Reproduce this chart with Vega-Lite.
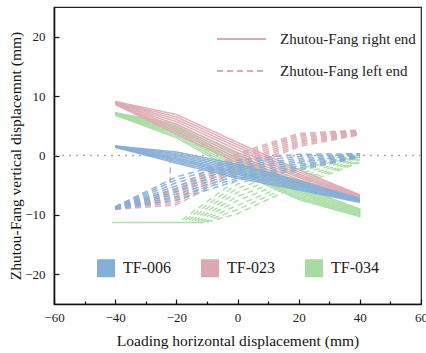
{
  "$schema": "https://vega.github.io/schema/vega-lite/v6.json",
  "width": 367,
  "height": 297,
  "autosize": "none",
  "padding": {"left": 54, "top": 7, "right": 5, "bottom": 49},
  "background": "white",
  "config": {
    "font": "Liberation Serif",
    "view": {"stroke": "#222", "strokeWidth": 1.2},
    "axis": {"grid": false, "domainColor": "#111", "domainWidth": 1.6, "tickColor": "#111", "tickWidth": 1.2, "labelColor": "#222", "labelFont": "Liberation Serif", "labelFontSize": 13, "titleFont": "Liberation Serif", "titleFontSize": 15.5, "titleFontWeight": "normal", "titleColor": "#111"},
    "legend": {"labelFont": "Liberation Serif", "labelColor": "#222"}
  },
  "layer": [
    {
      "data": {"values": [{}]},
      "mark": {"type": "rule", "color": "#aaaaaa", "strokeDash": [2, 5], "strokeWidth": 1.3},
      "encoding": {"y": {"datum": 0}}
    },
    {
      "data": {"values": [
        {"s":"TF-034","e":"R","c":1,"x":-40,"y":7.2},{"s":"TF-034","e":"R","c":1,"x":-20,"y":5.3},{"s":"TF-034","e":"R","c":1,"x":0,"y":0.3},{"s":"TF-034","e":"R","c":1,"x":20,"y":-5.2},{"s":"TF-034","e":"R","c":1,"x":40,"y":-9.0},
        {"s":"TF-034","e":"R","c":2,"x":-40,"y":7.1},{"s":"TF-034","e":"R","c":2,"x":-20,"y":4.7},{"s":"TF-034","e":"R","c":2,"x":0,"y":-0.5},{"s":"TF-034","e":"R","c":2,"x":20,"y":-5.8},{"s":"TF-034","e":"R","c":2,"x":40,"y":-9.3},
        {"s":"TF-034","e":"R","c":3,"x":-40,"y":7.0},{"s":"TF-034","e":"R","c":3,"x":-20,"y":4.2},{"s":"TF-034","e":"R","c":3,"x":0,"y":-1.3},{"s":"TF-034","e":"R","c":3,"x":20,"y":-6.3},{"s":"TF-034","e":"R","c":3,"x":40,"y":-9.7},
        {"s":"TF-034","e":"R","c":4,"x":-40,"y":6.9},{"s":"TF-034","e":"R","c":4,"x":-20,"y":3.6},{"s":"TF-034","e":"R","c":4,"x":0,"y":-2.0},{"s":"TF-034","e":"R","c":4,"x":20,"y":-6.9},{"s":"TF-034","e":"R","c":4,"x":40,"y":-10.0},
        {"s":"TF-034","e":"R","c":5,"x":-40,"y":6.8},{"s":"TF-034","e":"R","c":5,"x":-20,"y":3.0},{"s":"TF-034","e":"R","c":5,"x":0,"y":-2.8},{"s":"TF-034","e":"R","c":5,"x":20,"y":-7.4},{"s":"TF-034","e":"R","c":5,"x":40,"y":-10.3},
        {"s":"TF-034","e":"R","c":8,"x":-40,"y":7.15},{"s":"TF-034","e":"R","c":8,"x":-20,"y":5.0},{"s":"TF-034","e":"R","c":8,"x":0,"y":-0.1},{"s":"TF-034","e":"R","c":8,"x":20,"y":-5.5},{"s":"TF-034","e":"R","c":8,"x":40,"y":-9.15},
        {"s":"TF-034","e":"R","c":9,"x":-40,"y":7.05},{"s":"TF-034","e":"R","c":9,"x":-20,"y":4.45},{"s":"TF-034","e":"R","c":9,"x":0,"y":-0.9},{"s":"TF-034","e":"R","c":9,"x":20,"y":-6.05},{"s":"TF-034","e":"R","c":9,"x":40,"y":-9.5},
        {"s":"TF-034","e":"R","c":10,"x":-40,"y":6.95},{"s":"TF-034","e":"R","c":10,"x":-20,"y":3.9},{"s":"TF-034","e":"R","c":10,"x":0,"y":-1.65},{"s":"TF-034","e":"R","c":10,"x":20,"y":-6.6},{"s":"TF-034","e":"R","c":10,"x":40,"y":-9.85},
        {"s":"TF-034","e":"R","c":11,"x":-40,"y":6.85},{"s":"TF-034","e":"R","c":11,"x":-20,"y":3.3},{"s":"TF-034","e":"R","c":11,"x":0,"y":-2.4},{"s":"TF-034","e":"R","c":11,"x":20,"y":-7.15},{"s":"TF-034","e":"R","c":11,"x":40,"y":-10.15},
        {"s":"TF-034","e":"R","c":6,"x":-41,"y":-11.3},{"s":"TF-034","e":"R","c":6,"x":-11,"y":-11.3},
        {"s":"TF-034","e":"R","c":7,"x":40,"y":-10.4},{"s":"TF-034","e":"R","c":7,"x":40,"y":-8.9},
        {"s":"TF-034","e":"L","c":1,"x":-18,"y":-10.8},{"s":"TF-034","e":"L","c":1,"x":0,"y":-4.0},{"s":"TF-034","e":"L","c":1,"x":20,"y":-1.2},{"s":"TF-034","e":"L","c":1,"x":40,"y":0.2},
        {"s":"TF-034","e":"L","c":2,"x":-16,"y":-10.9},{"s":"TF-034","e":"L","c":2,"x":0,"y":-5.5},{"s":"TF-034","e":"L","c":2,"x":20,"y":-2.2},{"s":"TF-034","e":"L","c":2,"x":40,"y":-0.2},
        {"s":"TF-034","e":"L","c":3,"x":-14,"y":-11.0},{"s":"TF-034","e":"L","c":3,"x":0,"y":-6.9},{"s":"TF-034","e":"L","c":3,"x":20,"y":-3.1},{"s":"TF-034","e":"L","c":3,"x":40,"y":-0.5},
        {"s":"TF-034","e":"L","c":4,"x":-12,"y":-11.1},{"s":"TF-034","e":"L","c":4,"x":0,"y":-8.4},{"s":"TF-034","e":"L","c":4,"x":20,"y":-4.1},{"s":"TF-034","e":"L","c":4,"x":40,"y":-0.9},
        {"s":"TF-034","e":"L","c":5,"x":-10,"y":-11.2},{"s":"TF-034","e":"L","c":5,"x":0,"y":-9.8},{"s":"TF-034","e":"L","c":5,"x":20,"y":-5.0},{"s":"TF-034","e":"L","c":5,"x":40,"y":-1.2},
        {"s":"TF-034","e":"L","c":6,"x":-17,"y":-10.85},{"s":"TF-034","e":"L","c":6,"x":0,"y":-4.8},{"s":"TF-034","e":"L","c":6,"x":20,"y":-1.7},{"s":"TF-034","e":"L","c":6,"x":40,"y":0.0},
        {"s":"TF-034","e":"L","c":7,"x":-15,"y":-10.95},{"s":"TF-034","e":"L","c":7,"x":0,"y":-6.2},{"s":"TF-034","e":"L","c":7,"x":20,"y":-2.6},{"s":"TF-034","e":"L","c":7,"x":40,"y":-0.35},
        {"s":"TF-034","e":"L","c":8,"x":-13,"y":-11.05},{"s":"TF-034","e":"L","c":8,"x":0,"y":-7.6},{"s":"TF-034","e":"L","c":8,"x":20,"y":-3.6},{"s":"TF-034","e":"L","c":8,"x":40,"y":-0.7},
        {"s":"TF-034","e":"L","c":9,"x":-11,"y":-11.15},{"s":"TF-034","e":"L","c":9,"x":0,"y":-9.1},{"s":"TF-034","e":"L","c":9,"x":20,"y":-4.5},{"s":"TF-034","e":"L","c":9,"x":40,"y":-1.05},
        {"s":"TF-023","e":"R","c":1,"x":-40,"y":9.1},{"s":"TF-023","e":"R","c":1,"x":-20,"y":6.9},{"s":"TF-023","e":"R","c":1,"x":0,"y":2.2},{"s":"TF-023","e":"R","c":1,"x":20,"y":-2.4},{"s":"TF-023","e":"R","c":1,"x":40,"y":-6.6},
        {"s":"TF-023","e":"R","c":2,"x":-40,"y":9.0},{"s":"TF-023","e":"R","c":2,"x":-20,"y":6.1},{"s":"TF-023","e":"R","c":2,"x":0,"y":1.4},{"s":"TF-023","e":"R","c":2,"x":20,"y":-3.1},{"s":"TF-023","e":"R","c":2,"x":40,"y":-6.8},
        {"s":"TF-023","e":"R","c":3,"x":-40,"y":8.85},{"s":"TF-023","e":"R","c":3,"x":-20,"y":5.25},{"s":"TF-023","e":"R","c":3,"x":0,"y":0.5},{"s":"TF-023","e":"R","c":3,"x":20,"y":-3.7},{"s":"TF-023","e":"R","c":3,"x":40,"y":-6.9},
        {"s":"TF-023","e":"R","c":4,"x":-40,"y":8.7},{"s":"TF-023","e":"R","c":4,"x":-20,"y":4.4},{"s":"TF-023","e":"R","c":4,"x":0,"y":-0.4},{"s":"TF-023","e":"R","c":4,"x":20,"y":-4.4},{"s":"TF-023","e":"R","c":4,"x":40,"y":-7.0},
        {"s":"TF-023","e":"R","c":5,"x":-40,"y":8.6},{"s":"TF-023","e":"R","c":5,"x":-20,"y":3.6},{"s":"TF-023","e":"R","c":5,"x":0,"y":-1.2},{"s":"TF-023","e":"R","c":5,"x":20,"y":-5.0},{"s":"TF-023","e":"R","c":5,"x":40,"y":-7.2},
        {"s":"TF-023","e":"R","c":6,"x":-40,"y":9.05},{"s":"TF-023","e":"R","c":6,"x":-20,"y":6.5},{"s":"TF-023","e":"R","c":6,"x":0,"y":1.8},{"s":"TF-023","e":"R","c":6,"x":20,"y":-2.75},{"s":"TF-023","e":"R","c":6,"x":40,"y":-6.7},
        {"s":"TF-023","e":"R","c":7,"x":-40,"y":8.9},{"s":"TF-023","e":"R","c":7,"x":-20,"y":5.7},{"s":"TF-023","e":"R","c":7,"x":0,"y":0.95},{"s":"TF-023","e":"R","c":7,"x":20,"y":-3.4},{"s":"TF-023","e":"R","c":7,"x":40,"y":-6.85},
        {"s":"TF-023","e":"R","c":8,"x":-40,"y":8.8},{"s":"TF-023","e":"R","c":8,"x":-20,"y":4.8},{"s":"TF-023","e":"R","c":8,"x":0,"y":0.05},{"s":"TF-023","e":"R","c":8,"x":20,"y":-4.05},{"s":"TF-023","e":"R","c":8,"x":40,"y":-6.95},
        {"s":"TF-023","e":"R","c":9,"x":-40,"y":8.65},{"s":"TF-023","e":"R","c":9,"x":-20,"y":4.0},{"s":"TF-023","e":"R","c":9,"x":0,"y":-0.8},{"s":"TF-023","e":"R","c":9,"x":20,"y":-4.7},{"s":"TF-023","e":"R","c":9,"x":40,"y":-7.1},
        {"s":"TF-023","e":"L","c":1,"x":-40,"y":-8.8},{"s":"TF-023","e":"L","c":1,"x":-20,"y":-5.5},{"s":"TF-023","e":"L","c":1,"x":0,"y":0.3},{"s":"TF-023","e":"L","c":1,"x":20,"y":3.7},{"s":"TF-023","e":"L","c":1,"x":40,"y":4.3},
        {"s":"TF-023","e":"L","c":2,"x":-40,"y":-8.9},{"s":"TF-023","e":"L","c":2,"x":-20,"y":-6.2},{"s":"TF-023","e":"L","c":2,"x":0,"y":-0.4},{"s":"TF-023","e":"L","c":2,"x":20,"y":3.2},{"s":"TF-023","e":"L","c":2,"x":40,"y":4.1},
        {"s":"TF-023","e":"L","c":3,"x":-40,"y":-9.0},{"s":"TF-023","e":"L","c":3,"x":-20,"y":-6.9},{"s":"TF-023","e":"L","c":3,"x":0,"y":-1.2},{"s":"TF-023","e":"L","c":3,"x":20,"y":2.6},{"s":"TF-023","e":"L","c":3,"x":40,"y":3.9},
        {"s":"TF-023","e":"L","c":4,"x":-40,"y":-9.0},{"s":"TF-023","e":"L","c":4,"x":-20,"y":-7.6},{"s":"TF-023","e":"L","c":4,"x":0,"y":-2.0},{"s":"TF-023","e":"L","c":4,"x":20,"y":2.1},{"s":"TF-023","e":"L","c":4,"x":40,"y":3.7},
        {"s":"TF-023","e":"L","c":5,"x":-40,"y":-9.1},{"s":"TF-023","e":"L","c":5,"x":-20,"y":-8.3},{"s":"TF-023","e":"L","c":5,"x":0,"y":-2.8},{"s":"TF-023","e":"L","c":5,"x":20,"y":1.5},{"s":"TF-023","e":"L","c":5,"x":40,"y":3.5},
        {"s":"TF-023","e":"L","c":7,"x":-40,"y":-8.85},{"s":"TF-023","e":"L","c":7,"x":-20,"y":-5.85},{"s":"TF-023","e":"L","c":7,"x":0,"y":-0.05},{"s":"TF-023","e":"L","c":7,"x":20,"y":3.45},{"s":"TF-023","e":"L","c":7,"x":40,"y":4.2},
        {"s":"TF-023","e":"L","c":8,"x":-40,"y":-8.95},{"s":"TF-023","e":"L","c":8,"x":-20,"y":-6.55},{"s":"TF-023","e":"L","c":8,"x":0,"y":-0.8},{"s":"TF-023","e":"L","c":8,"x":20,"y":2.9},{"s":"TF-023","e":"L","c":8,"x":40,"y":4.0},
        {"s":"TF-023","e":"L","c":9,"x":-40,"y":-9.0},{"s":"TF-023","e":"L","c":9,"x":-20,"y":-7.25},{"s":"TF-023","e":"L","c":9,"x":0,"y":-1.6},{"s":"TF-023","e":"L","c":9,"x":20,"y":2.35},{"s":"TF-023","e":"L","c":9,"x":40,"y":3.8},
        {"s":"TF-023","e":"L","c":10,"x":-40,"y":-9.05},{"s":"TF-023","e":"L","c":10,"x":-20,"y":-7.95},{"s":"TF-023","e":"L","c":10,"x":0,"y":-2.4},{"s":"TF-023","e":"L","c":10,"x":20,"y":1.8},{"s":"TF-023","e":"L","c":10,"x":40,"y":3.6},
        {"s":"TF-023","e":"L","c":6,"x":-22,"y":-0.3},{"s":"TF-023","e":"L","c":6,"x":-22,"y":-4.5},
        {"s":"TF-006","e":"R","c":1,"x":-40,"y":1.6},{"s":"TF-006","e":"R","c":1,"x":-20,"y":0.6},{"s":"TF-006","e":"R","c":1,"x":0,"y":-1.5},{"s":"TF-006","e":"R","c":1,"x":20,"y":-4.2},{"s":"TF-006","e":"R","c":1,"x":40,"y":-7.2},
        {"s":"TF-006","e":"R","c":2,"x":-40,"y":1.55},{"s":"TF-006","e":"R","c":2,"x":-20,"y":0.1},{"s":"TF-006","e":"R","c":2,"x":0,"y":-2.1},{"s":"TF-006","e":"R","c":2,"x":20,"y":-4.6},{"s":"TF-006","e":"R","c":2,"x":40,"y":-7.4},
        {"s":"TF-006","e":"R","c":3,"x":-40,"y":1.5},{"s":"TF-006","e":"R","c":3,"x":-20,"y":-0.4},{"s":"TF-006","e":"R","c":3,"x":0,"y":-2.7},{"s":"TF-006","e":"R","c":3,"x":20,"y":-5.0},{"s":"TF-006","e":"R","c":3,"x":40,"y":-7.6},
        {"s":"TF-006","e":"R","c":4,"x":-40,"y":1.45},{"s":"TF-006","e":"R","c":4,"x":-20,"y":-0.8},{"s":"TF-006","e":"R","c":4,"x":0,"y":-3.2},{"s":"TF-006","e":"R","c":4,"x":20,"y":-5.4},{"s":"TF-006","e":"R","c":4,"x":40,"y":-7.7},
        {"s":"TF-006","e":"R","c":5,"x":-40,"y":1.4},{"s":"TF-006","e":"R","c":5,"x":-20,"y":-1.3},{"s":"TF-006","e":"R","c":5,"x":0,"y":-3.8},{"s":"TF-006","e":"R","c":5,"x":20,"y":-5.8},{"s":"TF-006","e":"R","c":5,"x":40,"y":-7.9},
        {"s":"TF-006","e":"R","c":6,"x":-40,"y":1.58},{"s":"TF-006","e":"R","c":6,"x":-20,"y":0.35},{"s":"TF-006","e":"R","c":6,"x":0,"y":-1.8},{"s":"TF-006","e":"R","c":6,"x":20,"y":-4.4},{"s":"TF-006","e":"R","c":6,"x":40,"y":-7.3},
        {"s":"TF-006","e":"R","c":7,"x":-40,"y":1.52},{"s":"TF-006","e":"R","c":7,"x":-20,"y":-0.15},{"s":"TF-006","e":"R","c":7,"x":0,"y":-2.4},{"s":"TF-006","e":"R","c":7,"x":20,"y":-4.8},{"s":"TF-006","e":"R","c":7,"x":40,"y":-7.5},
        {"s":"TF-006","e":"R","c":8,"x":-40,"y":1.48},{"s":"TF-006","e":"R","c":8,"x":-20,"y":-0.6},{"s":"TF-006","e":"R","c":8,"x":0,"y":-2.95},{"s":"TF-006","e":"R","c":8,"x":20,"y":-5.2},{"s":"TF-006","e":"R","c":8,"x":40,"y":-7.65},
        {"s":"TF-006","e":"R","c":9,"x":-40,"y":1.42},{"s":"TF-006","e":"R","c":9,"x":-20,"y":-1.05},{"s":"TF-006","e":"R","c":9,"x":0,"y":-3.5},{"s":"TF-006","e":"R","c":9,"x":20,"y":-5.6},{"s":"TF-006","e":"R","c":9,"x":40,"y":-7.8},
        {"s":"TF-006","e":"L","c":1,"x":-40,"y":-8.6},{"s":"TF-006","e":"L","c":1,"x":-20,"y":-3.6},{"s":"TF-006","e":"L","c":1,"x":0,"y":-0.8},{"s":"TF-006","e":"L","c":1,"x":20,"y":0.2},{"s":"TF-006","e":"L","c":1,"x":40,"y":0.3},
        {"s":"TF-006","e":"L","c":2,"x":-40,"y":-8.7},{"s":"TF-006","e":"L","c":2,"x":-20,"y":-4.6},{"s":"TF-006","e":"L","c":2,"x":0,"y":-1.7},{"s":"TF-006","e":"L","c":2,"x":20,"y":-0.5},{"s":"TF-006","e":"L","c":2,"x":40,"y":0.2},
        {"s":"TF-006","e":"L","c":3,"x":-40,"y":-8.8},{"s":"TF-006","e":"L","c":3,"x":-20,"y":-5.6},{"s":"TF-006","e":"L","c":3,"x":0,"y":-2.5},{"s":"TF-006","e":"L","c":3,"x":20,"y":-1.1},{"s":"TF-006","e":"L","c":3,"x":40,"y":0.0},
        {"s":"TF-006","e":"L","c":4,"x":-40,"y":-8.9},{"s":"TF-006","e":"L","c":4,"x":-20,"y":-6.5},{"s":"TF-006","e":"L","c":4,"x":0,"y":-3.4},{"s":"TF-006","e":"L","c":4,"x":20,"y":-1.8},{"s":"TF-006","e":"L","c":4,"x":40,"y":-0.2},
        {"s":"TF-006","e":"L","c":5,"x":-40,"y":-9.0},{"s":"TF-006","e":"L","c":5,"x":-20,"y":-7.5},{"s":"TF-006","e":"L","c":5,"x":0,"y":-4.2},{"s":"TF-006","e":"L","c":5,"x":20,"y":-2.4},{"s":"TF-006","e":"L","c":5,"x":40,"y":-0.3},
        {"s":"TF-006","e":"L","c":6,"x":-40,"y":-8.65},{"s":"TF-006","e":"L","c":6,"x":-20,"y":-4.1},{"s":"TF-006","e":"L","c":6,"x":0,"y":-1.25},{"s":"TF-006","e":"L","c":6,"x":20,"y":-0.15},{"s":"TF-006","e":"L","c":6,"x":40,"y":0.25},
        {"s":"TF-006","e":"L","c":7,"x":-40,"y":-8.75},{"s":"TF-006","e":"L","c":7,"x":-20,"y":-5.1},{"s":"TF-006","e":"L","c":7,"x":0,"y":-2.1},{"s":"TF-006","e":"L","c":7,"x":20,"y":-0.8},{"s":"TF-006","e":"L","c":7,"x":40,"y":0.1},
        {"s":"TF-006","e":"L","c":8,"x":-40,"y":-8.85},{"s":"TF-006","e":"L","c":8,"x":-20,"y":-6.05},{"s":"TF-006","e":"L","c":8,"x":0,"y":-2.95},{"s":"TF-006","e":"L","c":8,"x":20,"y":-1.45},{"s":"TF-006","e":"L","c":8,"x":40,"y":-0.1},
        {"s":"TF-006","e":"L","c":9,"x":-40,"y":-8.95},{"s":"TF-006","e":"L","c":9,"x":-20,"y":-7.0},{"s":"TF-006","e":"L","c":9,"x":0,"y":-3.8},{"s":"TF-006","e":"L","c":9,"x":20,"y":-2.1},{"s":"TF-006","e":"L","c":9,"x":40,"y":-0.25}
      ]},
      "mark": {"type": "line", "strokeWidth": 1.5, "opacity": 0.9},
      "encoding": {
        "x": {"field": "x", "type": "quantitative", "scale": {"domain": [-60, 60], "nice": false},
          "axis": {"title": "Loading horizontal displacement (mm)", "values": [-60,-50,-40,-30,-20,-10,0,10,20,30,40,50,60],
            "labelExpr": "datum.value % 20 === 0 ? datum.label : ''",
            "tickSize": {"condition": {"test": "datum.value % 20 !== 0", "value": -3}, "value": -5},
            "labelPadding": 12, "labelFlush": false, "titlePadding": 9}},
        "y": {"field": "y", "type": "quantitative", "scale": {"domain": [-25, 25], "nice": false},
          "axis": {"title": "Zhutou-Fang vertical displacemnt (mm)", "values": [-20,-15,-10,-5,0,5,10,15,20],
            "labelExpr": "datum.value % 10 === 0 ? datum.label : ''",
            "tickSize": {"condition": {"test": "datum.value % 10 !== 0", "value": -3}, "value": -5},
            "labelPadding": 14, "titlePadding": 1}},
        "color": {"field": "s", "type": "nominal",
          "scale": {"domain": ["TF-006", "TF-023", "TF-034"], "range": ["#86aed6", "#dea8b2", "#a8dba3"]},
          "legend": {"title": null, "orient": "none", "legendX": 43, "legendY": 252, "direction": "horizontal",
            "symbolType": "square", "symbolSize": 81, "symbolStrokeWidth": 9, "symbolOpacity": 1,
            "labelFont": "Liberation Serif", "labelFontSize": 16, "labelOffset": 8, "columnPadding": 16}},
        "strokeDash": {"field": "e", "type": "nominal",
          "scale": {"domain": ["R", "L"], "range": [[1, 0], [6, 4]]},
          "legend": {"title": null, "orient": "none", "legendX": 162, "legendY": 16, "direction": "vertical",
            "symbolType": "stroke", "symbolSize": 2401, "symbolStrokeColor": "#d9a0aa", "symbolStrokeWidth": 2,
            "labelFont": "Liberation Serif", "labelFontSize": 15, "labelOffset": 13, "rowPadding": 0, "clipHeight": 32, "labelLimit": 300,
            "labelExpr": "datum.value === 'R' ? 'Zhutou-Fang right end' : 'Zhutou-Fang left end'"}},
        "detail": {"field": "c", "type": "nominal"}
      }
    }
  ]
}
